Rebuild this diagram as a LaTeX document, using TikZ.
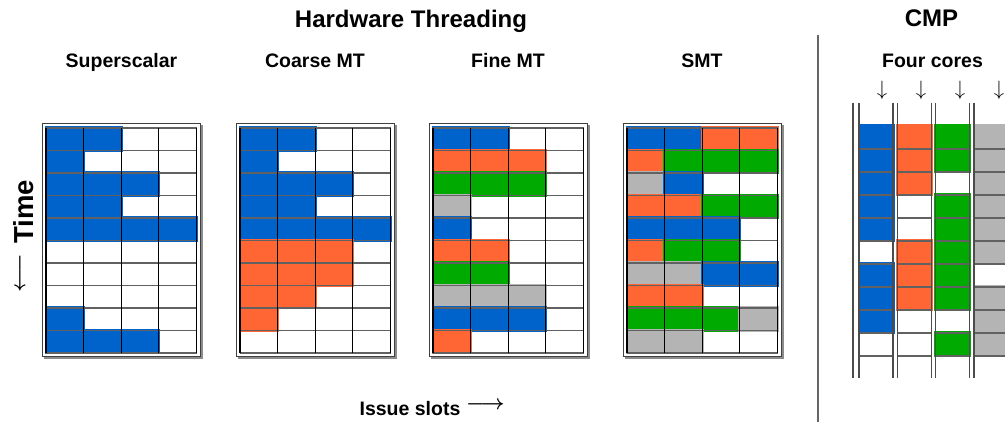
\documentclass[tikz,border=0pt]{standalone}
\usepackage{fontspec}
\setmainfont{Liberation Sans}
\usetikzlibrary{calc}

% thread colours
\definecolor{slotB}{RGB}{0,99,204}
\definecolor{slotO}{RGB}{255,102,51}
\definecolor{slotG}{RGB}{0,170,0}
\definecolor{slotY}{RGB}{180,180,180}

\tikzset{
  frameline/.style={draw=black!75, line width=0.8pt},
  frameshadow/.style={draw=black!45, line width=2pt},
  rowline/.style={draw=black!62, line width=1.8pt},
  colline/.style={draw=black, line width=1.1pt},
  coreline/.style={draw=black!70, line width=1.4pt},
  sepline/.style={draw=black!60, line width=1.3pt},
  heading/.style={font=\fontsize{24}{28}\selectfont\bfseries, anchor=base, inner sep=0pt},
  subheading/.style={font=\fontsize{19.5}{23}\selectfont\bfseries, anchor=base, inner sep=0pt},
  glyph/.style={inner sep=0pt},
  longglyph/.style={inner sep=0pt, font=\fontsize{20.5}{22}\selectfont\mathversion{bold}},
}

% one issue slot: left, top, width, height, thread letter (W = empty)
\def\slotblank{W}
\newcommand\slotfill[5]{%
  \edef\slotc{#5}%
  \ifx\slotc\slotblank\else
    \fill[slot\slotc] ({#1-1.5},{#2-1.5}) rectangle ({#1+#3+1.5},{#2+#4+1.5});
  \fi}

% a 4-wide, 10-deep issue-slot panel: grid left edge, rows
\newcommand\issuepanel[2]{%
  \draw[frameshadow] ({#1-2.5},358) -- ({#1+155.5},358) -- ({#1+155.5},125);
  \draw[frameline] ({#1-4},123.5) rectangle ({#1+154},356.5);
  \foreach \a/\b/\c/\d [count=\i from 0] in {#2} {
    \slotfill{#1}{128+22.5*\i}{37.625}{22.5}{\a}
    \slotfill{#1+37.625}{128+22.5*\i}{37.625}{22.5}{\b}
    \slotfill{#1+75.25}{128+22.5*\i}{37.625}{22.5}{\c}
    \slotfill{#1+112.875}{128+22.5*\i}{37.625}{22.5}{\d}
  }
  \foreach \k in {0,...,10}
    \draw[rowline] (#1,{128+22.5*\k}) -- ({#1+150.5},{128+22.5*\k});
  \foreach \k in {0,...,4}
    \draw[colline] ({#1+37.625*\k},128) -- ({#1+37.625*\k},353);
}

\begin{document}
\begin{tikzpicture}[x=1pt,y=-1pt]
\useasboundingbox (0,0) rectangle (1005,422);
\clip (0,0) rectangle (1005,422);

% headings
\node[heading] (hwt) at (411,28) {Hardware Threading};
\node[heading] (cmp) at (931.5,27) {CMP};
\node[subheading] (ss)  at (121.5,68) {Superscalar};
\node[subheading] (cmt) at (315,68) {Coarse MT};
\node[subheading] (fmt) at (508,68) {Fine MT};
\node[subheading] (smt) at (702,68) {SMT};
\node[subheading] (four) at (932.5,68) {Four cores};

% axes
\node[font=\fontsize{27.5}{30}\selectfont\bfseries, rotate=90, anchor=base, inner sep=0pt] (time) at (33,212) {Time};
\node[longglyph, rotate=90] (timearrow) at (21,273) {$\longleftarrow$};
\node[subheading] (slots) at (410,415) {Issue slots};
\node[longglyph, anchor=west] (slotsarrow) at (466,405) {$\longrightarrow$};

% superscalar
\issuepanel{46}{B/B/W/W, B/W/W/W, B/B/B/W, B/B/W/W, B/B/B/B,
  W/W/W/W, W/W/W/W, W/W/W/W, B/W/W/W, B/B/B/W}
% coarse-grained multithreading
\issuepanel{240}{B/B/W/W, B/W/W/W, B/B/B/W, B/B/W/W, B/B/B/B,
  O/O/O/W, O/O/O/W, O/O/W/W, O/W/W/W, W/W/W/W}
% fine-grained multithreading
\issuepanel{433}{B/B/W/W, O/O/O/W, G/G/G/W, Y/W/W/W, B/W/W/W,
  O/O/W/W, G/G/W/W, Y/Y/Y/W, B/B/B/W, O/W/W/W}
% simultaneous multithreading
\issuepanel{627}{B/B/O/O, O/G/G/G, Y/B/W/W, O/O/G/G, B/B/B/W,
  O/G/G/W, Y/Y/B/B, O/O/W/W, G/G/G/Y, Y/Y/W/W}

% separator
\draw[sepline] (818,35) -- (818,422);

% four cores, one thread each
\foreach \a/\b/\c/\d [count=\i from 0] in {B/O/G/Y, B/O/G/Y, B/O/W/Y, B/W/G/Y, B/W/G/Y,
    W/O/G/Y, B/O/G/W, B/O/G/Y, B/W/W/Y, W/W/G/Y} {
  \slotfill{859}{126+23*\i}{34}{23}{\a}
  \slotfill{897.3}{126+23*\i}{34}{23}{\b}
  \slotfill{935.6}{126+23*\i}{34}{23}{\c}
  \slotfill{974}{126+23*\i}{34}{23}{\d}
}
\foreach \L in {859,897.3,935.6,974} {
  \foreach \k in {1,...,10}
    \draw[rowline] (\L,{126+23*\k}) -- ({\L+34},{126+23*\k});
  \draw[coreline] (\L,103) -- (\L,378);
  \draw[coreline] ({\L+34},103) -- ({\L+34},378);
}
\draw[coreline] (853,103) -- (853,378);

\foreach \x [count=\n] in {882,921,960,999}
  \node[glyph, font=\fontsize{22}{24}\selectfont] (core\n) at (\x,90) {$\downarrow$};
\end{tikzpicture}
\end{document}
